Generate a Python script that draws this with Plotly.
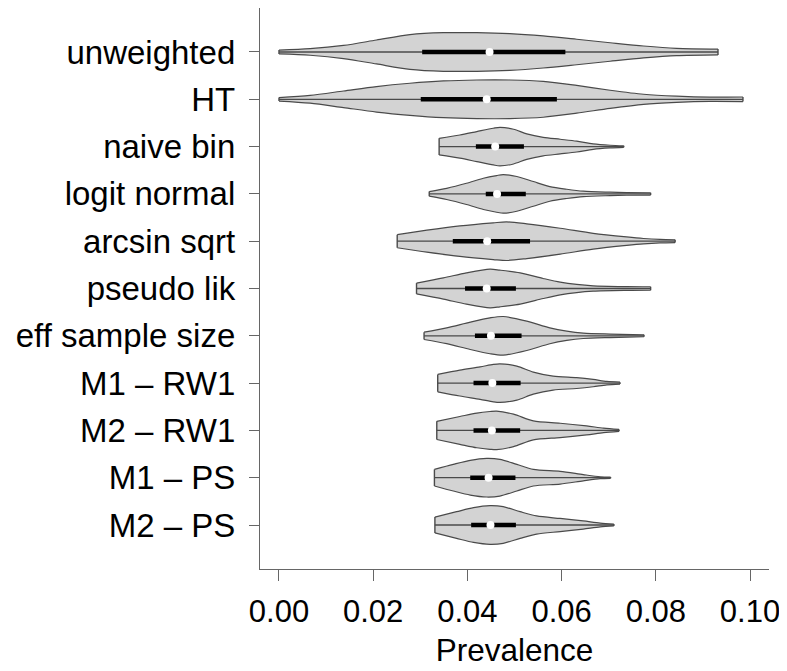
import plotly.graph_objects as go

methods = ["unweighted", "HT", "naive bin", "logit normal", "arcsin sqrt", "pseudo lik",
           "eff sample size", "M1 \u2013 RW1", "M2 \u2013 RW1", "M1 \u2013 PS", "M2 \u2013 PS"]

q1 = [0.0304, 0.0301, 0.0418, 0.0439, 0.0369, 0.0395, 0.0416, 0.0413, 0.0413, 0.0406, 0.0408]
median = [0.0447, 0.0441, 0.0459, 0.0463, 0.0442, 0.0441, 0.0450, 0.0453, 0.0452, 0.0445, 0.0449]
q3 = [0.0608, 0.0590, 0.0520, 0.0524, 0.0533, 0.0503, 0.0515, 0.0513, 0.0512, 0.0502, 0.0503]

# density profiles: prevalence values and relative density (max = 1)
profile_x = [
    [0.0, 0.0066, 0.0137, 0.0207, 0.0278, 0.0349, 0.0420, 0.0490, 0.0561, 0.0632, 0.0703, 0.0774, 0.0844, 0.0932],
    [0.0, 0.0066, 0.0137, 0.0207, 0.0278, 0.0349, 0.0420, 0.0490, 0.0561, 0.0632, 0.0703, 0.0774, 0.0844, 0.0915, 0.0985],
    [0.0340, 0.0384, 0.0420, 0.0455, 0.0469, 0.0498, 0.0526, 0.0561, 0.0597, 0.0632, 0.0667, 0.0703, 0.0732],
    [0.0319, 0.0356, 0.0398, 0.0434, 0.0462, 0.0476, 0.0505, 0.0540, 0.0575, 0.0611, 0.0646, 0.0703, 0.0738, 0.0789],
    [0.0251, 0.0314, 0.0384, 0.0455, 0.0483, 0.0526, 0.0597, 0.0667, 0.0738, 0.0774, 0.0809, 0.0841],
    [0.0292, 0.0349, 0.0398, 0.0448, 0.0469, 0.0512, 0.0561, 0.0597, 0.0632, 0.0667, 0.0738, 0.0789],
    [0.0308, 0.0356, 0.0406, 0.0448, 0.0476, 0.0526, 0.0575, 0.0611, 0.0646, 0.0703, 0.0775],
    [0.0337, 0.0384, 0.0427, 0.0455, 0.0469, 0.0505, 0.0540, 0.0582, 0.0632, 0.0667, 0.0696, 0.0724],
    [0.0335, 0.0384, 0.0420, 0.0448, 0.0462, 0.0498, 0.0540, 0.0597, 0.0653, 0.0689, 0.0722],
    [0.0330, 0.0370, 0.0406, 0.0441, 0.0469, 0.0505, 0.0540, 0.0597, 0.0646, 0.0682, 0.0704],
    [0.0331, 0.0377, 0.0413, 0.0448, 0.0476, 0.0512, 0.0547, 0.0597, 0.0646, 0.0682, 0.0711],
]
profile_d = [
    [0.10, 0.17, 0.34, 0.62, 0.90, 1.00, 1.00, 0.95, 0.83, 0.66, 0.48, 0.31, 0.19, 0.15],
    [0.09, 0.20, 0.43, 0.66, 0.83, 0.95, 1.00, 1.00, 0.93, 0.72, 0.47, 0.26, 0.16, 0.11, 0.12],
    [0.43, 0.60, 0.78, 0.95, 1.00, 0.90, 0.66, 0.48, 0.38, 0.28, 0.14, 0.07, 0.04],
    [0.12, 0.29, 0.55, 0.81, 0.95, 1.00, 0.90, 0.64, 0.38, 0.24, 0.14, 0.09, 0.07, 0.06],
    [0.34, 0.57, 0.79, 0.95, 1.00, 0.90, 0.67, 0.41, 0.22, 0.14, 0.09, 0.07],
    [0.28, 0.55, 0.81, 1.00, 0.95, 0.81, 0.52, 0.33, 0.21, 0.14, 0.10, 0.09],
    [0.19, 0.41, 0.71, 0.93, 1.00, 0.76, 0.41, 0.24, 0.14, 0.09, 0.05],
    [0.45, 0.67, 0.84, 0.97, 1.00, 0.88, 0.57, 0.36, 0.28, 0.19, 0.09, 0.05],
    [0.47, 0.72, 0.90, 0.98, 1.00, 0.84, 0.49, 0.37, 0.23, 0.12, 0.05],
    [0.43, 0.69, 0.90, 1.00, 0.95, 0.69, 0.43, 0.33, 0.16, 0.05, 0.03],
    [0.41, 0.69, 0.90, 1.00, 0.95, 0.69, 0.47, 0.34, 0.21, 0.10, 0.05],
]

x_ticks = [0.00, 0.02, 0.04, 0.06, 0.08, 0.10]

HALF = 0.408          # maximum half-width of a violin, in category units
FILL = "#d3d3d3"
EDGE = "#4a4a4a"
FONT = "Liberation Sans, Arial, Helvetica, sans-serif"

fig = go.Figure()
for i, name in enumerate(methods):
    xs = profile_x[i]
    ds = profile_d[i]
    lower = [i - d * HALF for d in ds]
    upper = [i + d * HALF for d in ds]
    fig.add_trace(go.Scatter(x=xs, y=lower, mode="lines",
                             line=dict(color=EDGE, width=1.2, shape="spline", smoothing=0.8),
                             hoverinfo="skip"))
    fig.add_trace(go.Scatter(x=xs, y=upper, mode="lines", fill="tonexty", fillcolor=FILL,
                             line=dict(color=EDGE, width=1.2, shape="spline", smoothing=0.8),
                             hoverinfo="skip"))
    # flat ends at minimum and maximum
    fig.add_trace(go.Scatter(x=[xs[0], xs[0], None, xs[-1], xs[-1]],
                             y=[lower[0], upper[0], None, lower[-1], upper[-1]],
                             mode="lines", line=dict(color=EDGE, width=1.4), hoverinfo="skip"))
    # whisker line min-max
    fig.add_trace(go.Scatter(x=[xs[0], xs[-1]], y=[i, i], mode="lines",
                             line=dict(color=EDGE, width=1.3), hoverinfo="skip"))
    # inter-quartile bar
    fig.add_trace(go.Scatter(x=[q1[i], q3[i]], y=[i, i], mode="lines",
                             line=dict(color="black", width=4.5), hoverinfo="skip"))
    # median
    fig.add_trace(go.Scatter(x=[median[i]], y=[i], mode="markers",
                             marker=dict(color="white", size=8, line=dict(width=0)),
                             hoverinfo="skip"))

fig.update_layout(
    width=779, height=663,
    margin=dict(l=252, r=18, t=0, b=102),
    plot_bgcolor="white", paper_bgcolor="white",
    showlegend=False,
    font=dict(family=FONT, color="black"),
    xaxis=dict(range=[-0.00403, 0.10403], tickvals=x_ticks,
               ticktext=[f"{v:.2f}" for v in x_ticks],
               ticks="outside", ticklen=11, tickwidth=1.3, tickcolor="#666",
               showline=True, linecolor="#666", linewidth=1.3,
               showgrid=False, zeroline=False, ticklabelstandoff=4,
               tickfont=dict(size=31, family=FONT, color="black"),
               title=dict(text="Prevalence", font=dict(size=31.5, family=FONT, color="black"),
                          standoff=10)),
    yaxis=dict(range=[10.93, -0.93], tickvals=list(range(len(methods))), ticktext=methods,
               ticks="outside", ticklen=10, tickwidth=1.3, tickcolor="#666",
               showline=True, linecolor="#666", linewidth=1.3,
               showgrid=False, zeroline=False, ticklabelstandoff=7,
               tickfont=dict(size=33, family=FONT, color="black")),
)

fig.write_html("out.html")
